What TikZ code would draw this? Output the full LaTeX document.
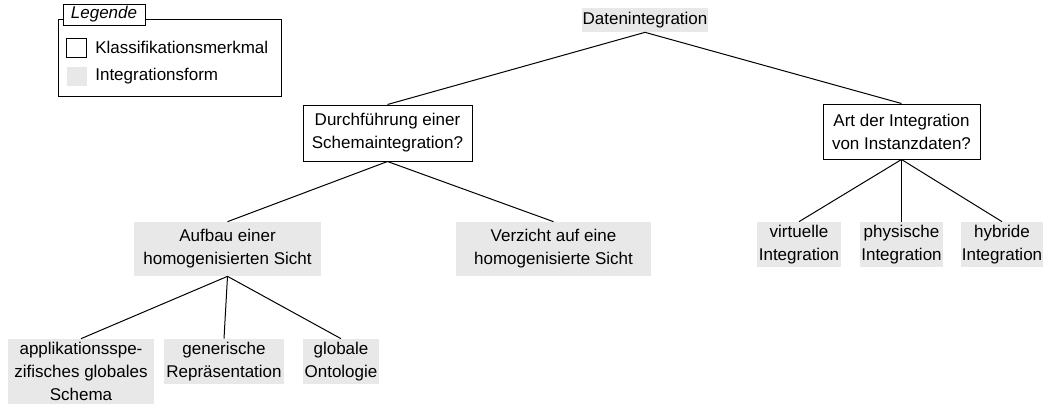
\documentclass[tikz,border=0pt]{standalone}
\usepackage{fontspec}
\setmainfont{Liberation Sans}
\usepackage{tikz}
\usetikzlibrary{positioning}
\definecolor{formgray}{HTML}{E8E8E8}
\tikzset{
  merkmal/.style={draw=black,fill=white,line width=0.6pt,align=center,inner sep=0pt},
  form/.style={fill=formgray,align=center,inner sep=0pt},
  ast/.style={black,line width=0.6pt}
}

\begin{document}
\begin{tikzpicture}[x=0.6pt,y=-0.6pt,font=\fontsize{10.2}{13.8}\selectfont]
\useasboundingbox (0,0) rectangle (1047,404);
% Legende
\draw[black,line width=0.6pt] (58,19) rectangle (281,96);
\node[merkmal,minimum width=49.2pt,minimum height=12.6pt,font=\fontsize{10.2}{12}\selectfont\itshape] (leg) at (104,14.5) {Legende};
\node[merkmal,minimum width=12pt,minimum height=11.4pt] (legk) at (76.5,47.5) {};
\node[form,minimum width=12pt,minimum height=11.4pt] (legf) at (77,76.5) {};
\node[anchor=west,inner sep=0pt] (legktxt) at (95,47.5) {Klassifikationsmerkmal};
\node[anchor=west,inner sep=0pt] (legftxt) at (95,76.5) {Integrationsform};
% Baum
\node[form,minimum width=75.6pt,minimum height=14.4pt] (daten) at (645,20) {Datenintegration};
\node[merkmal,minimum width=101.4pt,minimum height=33.6pt] (schema) at (387.5,133) {Durchführung einer\\Schemaintegration?};
\node[merkmal,minimum width=94.2pt,minimum height=33pt] (art) at (901.5,131.5) {Art der Integration\\von Instanzdaten?};
\node[form,minimum width=112.2pt,minimum height=32.4pt] (aufbau) at (227.5,249) {Aufbau einer\\homogenisierten Sicht};
\node[form,minimum width=117pt,minimum height=32.4pt] (verzicht) at (553.5,249) {Verzicht auf eine\\homogenisierte Sicht};
\node[form,minimum width=50.4pt,minimum height=27pt] (virtuell) at (799,244.5) {virtuelle\\Integration};
\node[form,minimum width=49.8pt,minimum height=27pt] (physisch) at (901.5,244.5) {physische\\Integration};
\node[form,minimum width=49.2pt,minimum height=27pt] (hybrid) at (1002,244.5) {hybride\\Integration};
\node[form,minimum width=87.6pt,minimum height=39pt] (appl) at (81,371.5) {applikationsspe-\\zifisches globales\\Schema};
\node[form,minimum width=72pt,minimum height=27pt] (generisch) at (224,361.5) {generische\\Repräsentation};
\node[form,minimum width=45.6pt,minimum height=27pt] (global) at (341,361.5) {globale\\Ontologie};
% Kanten
\draw[ast] (daten.south) -- (schema.north);
\draw[ast] (daten.south) -- (art.north);
\draw[ast] (schema.south) -- (aufbau.north);
\draw[ast] (schema.south) -- (verzicht.north);
\draw[ast] (art.south) -- (virtuell.north);
\draw[ast] (art.south) -- (physisch.north);
\draw[ast] (art.south) -- (hybrid.north);
\draw[ast] (aufbau.south) -- (appl.north);
\draw[ast] (aufbau.south) -- (generisch.north);
\draw[ast] (aufbau.south) -- (global.north);
\end{tikzpicture}
\end{document}
